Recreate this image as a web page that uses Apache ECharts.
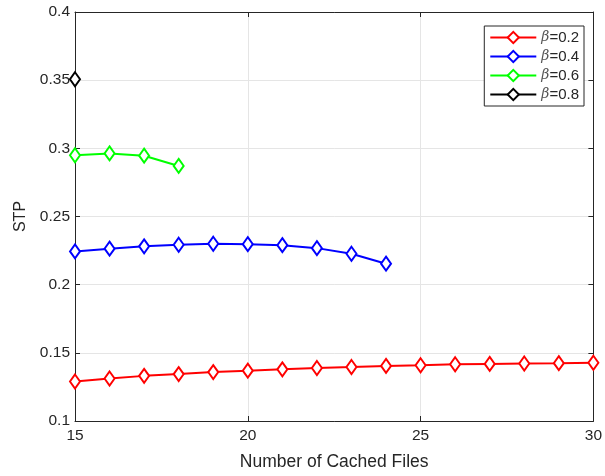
<!DOCTYPE html>
<html>
<head>
<meta charset="utf-8">
<script src="https://cdn.jsdelivr.net/npm/echarts@6/dist/echarts.min.js"></script>
<style>html,body{margin:0;padding:0;background:#fff}#c{width:605px;height:476px}</style>
</head>
<body>
<div id="c"></div>
<script>
const xRed = [15,16,17,18,19,20,21,22,23,24,25,26,27,28,29,30];
const yRed = [0.1290,0.1312,0.1331,0.1344,0.1359,0.1369,0.1379,0.1389,0.1396,0.1404,0.1409,0.1416,0.1419,0.1422,0.1424,0.1427];
const xBlue = [15,16,17,18,19,20,21,22,23,24];
const yBlue = [0.2244,0.2264,0.2281,0.2293,0.2300,0.2297,0.2290,0.2268,0.2227,0.2154];
const xGreen = [15,16,17,18];
const yGreen = [0.2949,0.2963,0.2946,0.2871];
const xBlack = [15];
const yBlack = [0.3507];
const seriesNames = ['β=0.2','β=0.4','β=0.6','β=0.8'];
const colors = ['#ff0000','#0000ff','#00ff00','#000000'];
const xTicks = [15,20,25,30];
const yTicks = [0.1,0.15,0.2,0.25,0.3,0.35,0.4];

const FONT = 'Liberation Sans, Arial, Helvetica, sans-serif';
const TXT = '#262626';
const zip = (xs, ys) => xs.map((x, i) => [x, ys[i]]);
const allX = [xRed, xBlue, xGreen, xBlack];
const allY = [yRed, yBlue, yGreen, yBlack];

const chart = echarts.init(document.getElementById('c'), null, {renderer: 'canvas'});
const baseAxis = {
  axisLine: {show: true, onZero: false, lineStyle: {color: TXT, width: 1}},
  axisTick: {show: true, inside: true, length: 5, lineStyle: {color: TXT}},
};
chart.setOption({
  animation: false,
  backgroundColor: '#fff',
  grid: {left: 75, right: 8, top: 12, bottom: 54, containLabel: false},
  legend: {
    data: seriesNames,
    orient: 'vertical',
    right: 21, top: 26,
    backgroundColor: '#fff',
    borderColor: TXT, borderWidth: 1,
    padding: [4, 5, 4, 5],
    itemGap: 4,
    itemWidth: 46, itemHeight: 14,
    formatter: n => '{i|β}{t|' + n.slice(1) + '}',
    textStyle: {
      fontFamily: FONT, fontSize: 15, color: TXT,
      rich: {
        i: {fontStyle: 'italic', fontFamily: 'DejaVu Serif, serif', fontSize: 14, color: '#555'},
        t: {fontFamily: FONT, fontSize: 15, color: TXT}
      }
    }
  },
  xAxis: [{
    ...baseAxis,
    type: 'value', min: 15, max: 30, interval: 5,
    name: 'Number of Cached Files', nameLocation: 'middle', nameGap: 32,
    nameTextStyle: {fontFamily: FONT, fontSize: 17.5, color: TXT},
    axisLabel: {color: TXT, fontFamily: FONT, fontSize: 15.5, margin: 7,
      formatter: v => xTicks.includes(v) ? String(v) : ''},
    splitLine: {show: true, lineStyle: {color: '#e5e5e5', width: 1}}
  }, {
    ...baseAxis,
    type: 'value', min: 15, max: 30, interval: 5, position: 'top',
    axisLabel: {show: false}, splitLine: {show: false}
  }],
  yAxis: [{
    ...baseAxis,
    type: 'value', min: 0.1, max: 0.4, interval: 0.05,
    name: 'STP', nameLocation: 'middle', nameGap: 46,
    nameTextStyle: {fontFamily: FONT, fontSize: 16, color: TXT},
    axisLabel: {color: TXT, fontFamily: FONT, fontSize: 15.5, margin: 5,
      formatter: v => { const t = yTicks.find(k => Math.abs(k - v) < 1e-9); return t === undefined ? '' : String(t); }},
    splitLine: {show: true, lineStyle: {color: '#e5e5e5', width: 1}}
  }, {
    ...baseAxis,
    type: 'value', min: 0.1, max: 0.4, interval: 0.05, position: 'right',
    axisLabel: {show: false}, splitLine: {show: false}
  }],
  series: seriesNames.map((name, k) => ({
    name,
    type: 'line',
    data: zip(allX[k], allY[k]),
    symbol: 'diamond',
    symbolSize: [10, 14],
    showAllSymbol: true,
    itemStyle: {color: '#fff', borderColor: colors[k], borderWidth: 2},
    lineStyle: {color: colors[k], width: 2},
    color: colors[k],
    z: 3 + k
  }))
});
</script>
</body>
</html>
